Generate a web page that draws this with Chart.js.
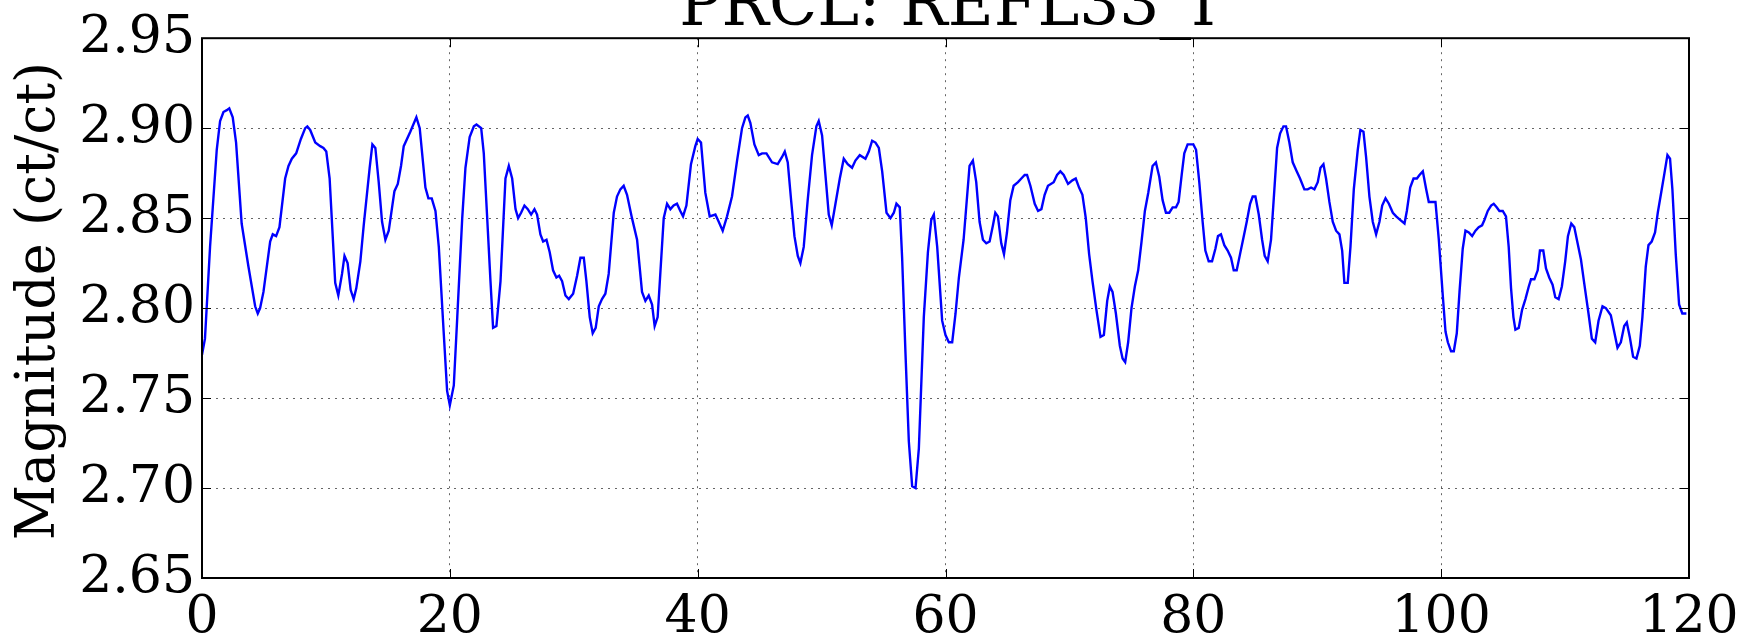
<!DOCTYPE html>
<html>
<head>
<meta charset="utf-8">
<title>PRCL: REFL33_I</title>
<script src="https://cdn.jsdelivr.net/npm/chart.js@4.4.1/dist/chart.umd.min.js"></script>
<style>
  html, body { margin: 0; padding: 0; background: #fff; }
  #wrap { width: 1752px; height: 633px; }
</style>
</head>
<body>
<div id="wrap"><canvas id="chart" width="1752" height="633"></canvas></div>
<script>
// PRCL: REFL33_I — magnitude trace.

const chartTitle = 'PRCL: REFL33_I';
const yAxisLabel = 'Magnitude (ct/ct)';
const xTicks = [0, 20, 40, 60, 80, 100, 120];
const yTicks = [2.65, 2.70, 2.75, 2.80, 2.85, 2.90, 2.95];

const sampleTimes = [
  0, 0.24, 0.65, 1.19, 1.46, 1.73, 2.0, 2.2, 2.48, 2.75, 3.2, 3.75, 4.29, 4.5, 4.69, 4.96, 5.5, 5.71, 5.98, 6.25,
  6.71, 6.98, 7.25, 7.6, 7.98, 8.33, 8.5, 8.73, 9.14, 9.54, 9.8, 10.03, 10.3, 10.75, 11.0, 11.3, 11.5, 11.75, 12.0, 12.24,
  12.45, 12.78, 13.05, 13.53, 13.75, 13.99, 14.26, 14.53, 14.8, 15.07, 15.34, 15.53, 15.8, 16.06, 16.28, 16.81, 17.3, 17.57, 18.03, 18.27,
  18.54, 18.84, 19.11, 19.5, 19.78,
  20.0, 20.32, 20.6, 21.0, 21.26, 21.6, 21.94, 22.15, 22.53, 22.74, 23.0, 23.28, 23.49, 23.76, 24.09, 24.49, 24.76, 25.03, 25.3, 25.51,
  25.75, 26.02, 26.29, 26.56, 26.83, 27.04, 27.31, 27.53, 27.8, 28.06, 28.33, 28.6, 28.82, 29.06, 29.33, 29.6, 29.95, 30.27, 30.54, 30.81,
  31.02, 31.29, 31.53, 31.77, 32.02, 32.28, 32.55, 32.82, 33.23, 33.49, 33.76, 34.03, 34.3, 34.7, 35.11, 35.51, 35.78, 36.05, 36.32, 36.53,
  36.77, 37.26, 37.53, 37.8, 38.06, 38.33, 38.6, 38.82, 39.09, 39.46, 39.81,
  40.0, 40.27, 40.62, 40.97, 41.43, 41.7, 42.02, 42.37, 42.77, 43.18, 43.58, 43.85, 44.04, 44.25, 44.58, 44.93, 45.2, 45.55, 46.0, 46.46,
  46.81, 47.03, 47.27, 47.54, 47.81, 48.08, 48.29, 48.56, 48.88, 49.23, 49.58, 49.77, 50.04, 50.31, 50.58, 50.82, 51.12, 51.47, 51.79, 52.11,
  52.46, 52.73, 53.08, 53.54, 53.81, 54.08, 54.35, 54.62, 54.89, 55.24, 55.56, 55.83, 56.04, 56.31, 56.5, 56.77, 57.04, 57.31, 57.58, 57.85,
  58.25, 58.58, 58.85, 59.06, 59.33, 59.73,
  60.0, 60.27, 60.54, 60.81, 61.08, 61.46, 61.94, 62.21, 62.48, 62.75, 63.02, 63.29, 63.56, 63.83, 64.02, 64.23, 64.5, 64.72, 64.96, 65.23,
  65.5, 65.85, 66.12, 66.39, 66.58, 66.85, 67.2, 67.47, 67.74, 68.0, 68.27, 68.73, 69.0, 69.27, 69.54, 69.89, 70.24, 70.51, 70.78, 71.05,
  71.32, 71.59, 71.86, 72.18, 72.51, 72.78, 73.05, 73.26, 73.48, 73.75, 74.07, 74.29, 74.5, 74.74, 75.01, 75.28, 75.55, 75.82, 76.09, 76.36,
  76.71, 76.98, 77.25, 77.52, 77.79, 78.06, 78.33, 78.6, 78.81, 79.06, 79.27, 79.54,
  80.0, 80.22, 80.48, 80.75, 80.97, 81.24, 81.51, 81.78, 81.99, 82.23, 82.5, 82.77, 83.04, 83.26, 83.5, 83.77, 84.04, 84.31, 84.58, 84.79,
  85.01, 85.28, 85.55, 85.76, 86.0, 86.27, 86.54, 86.76, 87.0, 87.27, 87.48, 87.75, 88.02, 88.34, 88.61, 88.96, 89.23, 89.5, 89.77, 90.04,
  90.26, 90.5, 90.71, 90.98, 91.25, 91.52, 91.79, 92.01, 92.19, 92.46, 92.68, 92.95, 93.27, 93.48, 93.73, 93.94, 94.21, 94.48, 94.75, 95.02,
  95.24, 95.51, 95.78, 96.1, 96.37, 96.69, 97.04, 97.23, 97.5, 97.77, 98.04, 98.25, 98.52, 98.79, 99.0, 99.27, 99.54, 99.81,
  100.13, 100.35, 100.54, 100.8, 101.02, 101.26, 101.48, 101.74, 101.96, 102.23, 102.5, 102.77, 103.03, 103.3, 103.49, 103.76, 104.03, 104.24, 104.48, 104.7,
  104.97, 105.23, 105.45, 105.64, 105.83, 105.99, 106.26, 106.53, 106.8, 107.07, 107.25, 107.52, 107.79, 107.97, 108.24, 108.46, 108.72, 108.99, 109.21, 109.48,
  109.74, 110.01, 110.23, 110.5, 110.74, 111.01, 111.28, 111.54, 111.89, 112.16, 112.43, 112.7, 113.02, 113.29, 113.69, 113.96, 114.23, 114.5, 114.77, 114.98,
  115.22, 115.49, 115.76, 116.03, 116.24, 116.51, 116.73, 116.99, 117.26, 117.48, 117.75, 118.02, 118.26, 118.47, 118.66, 118.93, 119.2, 119.46, 119.79,
];

const magnitudes = [
  2.774, 2.783, 2.834, 2.888, 2.904, 2.909, 2.910, 2.911, 2.906, 2.892, 2.847, 2.823, 2.801, 2.797, 2.800, 2.809, 2.837, 2.841, 2.840, 2.845,
  2.872, 2.879, 2.883, 2.886, 2.894, 2.900, 2.901, 2.899, 2.892, 2.890, 2.889, 2.887, 2.872, 2.814, 2.807, 2.819, 2.829, 2.825, 2.810, 2.805,
  2.811, 2.826, 2.846, 2.878, 2.891, 2.889, 2.870, 2.848, 2.838, 2.843, 2.856, 2.865, 2.869, 2.879, 2.890, 2.898, 2.906, 2.900, 2.867, 2.861,
  2.861, 2.854, 2.834, 2.787, 2.754,
  2.746, 2.757, 2.795, 2.850, 2.878, 2.895, 2.901, 2.902, 2.900, 2.886, 2.852, 2.815, 2.789, 2.790, 2.815, 2.872, 2.879, 2.872, 2.855, 2.850,
  2.853, 2.857, 2.855, 2.852, 2.855, 2.852, 2.841, 2.837, 2.838, 2.831, 2.821, 2.817, 2.818, 2.815, 2.807, 2.805, 2.808, 2.818, 2.828, 2.828,
  2.815, 2.795, 2.786, 2.789, 2.801, 2.805, 2.808, 2.819, 2.853, 2.862, 2.866, 2.868, 2.863, 2.850, 2.838, 2.809, 2.804, 2.807, 2.802, 2.790,
  2.795, 2.850, 2.858, 2.855, 2.857, 2.858, 2.854, 2.851, 2.857, 2.880, 2.890,
  2.894, 2.892, 2.864, 2.851, 2.852, 2.848, 2.843, 2.851, 2.862, 2.882, 2.900, 2.906, 2.907, 2.903, 2.891, 2.885, 2.886, 2.886, 2.881, 2.880,
  2.884, 2.887, 2.881, 2.860, 2.840, 2.829, 2.825, 2.834, 2.860, 2.885, 2.901, 2.904, 2.896, 2.874, 2.852, 2.846, 2.858, 2.872, 2.883, 2.880,
  2.878, 2.882, 2.885, 2.883, 2.887, 2.893, 2.892, 2.889, 2.876, 2.853, 2.850, 2.853, 2.858, 2.856, 2.828, 2.775, 2.726, 2.701, 2.700, 2.722,
  2.795, 2.831, 2.849, 2.852, 2.834, 2.793,
  2.785, 2.781, 2.781, 2.797, 2.817, 2.838, 2.879, 2.882, 2.870, 2.848, 2.838, 2.836, 2.837, 2.846, 2.853, 2.851, 2.836, 2.830, 2.842, 2.860,
  2.868, 2.870, 2.872, 2.874, 2.874, 2.868, 2.858, 2.854, 2.855, 2.863, 2.868, 2.870, 2.874, 2.876, 2.874, 2.869, 2.871, 2.872, 2.867, 2.863,
  2.850, 2.830, 2.815, 2.799, 2.784, 2.785, 2.804, 2.812, 2.809, 2.797, 2.779, 2.772, 2.770, 2.781, 2.800, 2.812, 2.821, 2.837, 2.854, 2.864,
  2.879, 2.881, 2.873, 2.860, 2.853, 2.853, 2.856, 2.856, 2.859, 2.874, 2.886, 2.891,
  2.891, 2.888, 2.870, 2.848, 2.832, 2.826, 2.826, 2.833, 2.840, 2.841, 2.835, 2.832, 2.828, 2.821, 2.821, 2.830, 2.839, 2.848, 2.858, 2.862,
  2.862, 2.852, 2.838, 2.829, 2.826, 2.838, 2.866, 2.889, 2.897, 2.901, 2.901, 2.892, 2.881, 2.876, 2.872, 2.866, 2.866, 2.867, 2.866, 2.870,
  2.878, 2.880, 2.872, 2.859, 2.848, 2.843, 2.841, 2.832, 2.814, 2.814, 2.834, 2.866, 2.888, 2.899, 2.898, 2.884, 2.862, 2.848, 2.841, 2.848,
  2.857, 2.861, 2.858, 2.853, 2.851, 2.849, 2.847, 2.854, 2.867, 2.872, 2.872, 2.874, 2.876, 2.866, 2.859, 2.859, 2.859, 2.838,
  2.807, 2.787, 2.781, 2.776, 2.776, 2.786, 2.809, 2.833, 2.843, 2.842, 2.840, 2.843, 2.845, 2.846, 2.849, 2.854, 2.857, 2.858, 2.856, 2.854,
  2.854, 2.851, 2.834, 2.811, 2.795, 2.788, 2.789, 2.799, 2.805, 2.812, 2.816, 2.816, 2.821, 2.832, 2.832, 2.822, 2.817, 2.813, 2.806, 2.805,
  2.812, 2.826, 2.840, 2.847, 2.845, 2.836, 2.827, 2.814, 2.797, 2.783, 2.781, 2.793, 2.801, 2.800, 2.796, 2.787, 2.778, 2.781, 2.790, 2.792,
  2.784, 2.773, 2.772, 2.779, 2.795, 2.823, 2.835, 2.837, 2.842, 2.853, 2.864, 2.875, 2.885, 2.883, 2.866, 2.830, 2.802, 2.797, 2.797,
];

const FONT = '"DejaVu Serif", "Liberation Serif", serif';

// matplotlib-style box: frame, inward tick marks, y label, title that runs off the top
const frame = {
  id: 'frame',
  afterDraw(chart) {
    const { ctx, chartArea: a, scales } = chart;
    ctx.save();
    ctx.strokeStyle = '#000';
    ctx.lineWidth = 1;
    ctx.beginPath();
    yTicks.forEach(v => {
      const py = Math.round(scales.y.getPixelForValue(v)) + 0.5;
      ctx.moveTo(a.left, py); ctx.lineTo(a.left + 9, py);
      ctx.moveTo(a.right, py); ctx.lineTo(a.right - 9, py);
    });
    xTicks.forEach(v => {
      const px = Math.round(scales.x.getPixelForValue(v)) + 0.5;
      ctx.moveTo(px, a.bottom); ctx.lineTo(px, a.bottom - 9);
      ctx.moveTo(px, a.top); ctx.lineTo(px, a.top + 9);
    });
    ctx.stroke();
    ctx.lineWidth = 2;
    ctx.strokeRect(a.left, a.top, a.right - a.left, a.bottom - a.top);

    ctx.fillStyle = '#000';
    ctx.font = '63px ' + FONT;
    ctx.textAlign = 'center';
    ctx.textBaseline = 'alphabetic';
    ctx.fillText(chartTitle, (a.left + a.right) / 2 + 2, 25);

    ctx.font = '54px ' + FONT;
    ctx.textBaseline = 'middle';
    ctx.translate(39.5, (a.top + a.bottom) / 2 - 7);
    ctx.rotate(-Math.PI / 2);
    ctx.fillText(yAxisLabel, 0, 0);
    ctx.restore();
  },
};

new Chart(document.getElementById('chart'), {
  type: 'line',
  data: {
    datasets: [{
      data: sampleTimes.map((t, i) => ({ x: t, y: magnitudes[i] })),
      borderColor: '#0000ff',
      borderWidth: 2.4,
      pointRadius: 0,
      tension: 0,
      fill: false,
    }],
  },
  options: {
    responsive: false,
    animation: false,
    layout: { padding: { left: 0, right: 63, top: 35, bottom: 0 } },
    plugins: { legend: { display: false }, tooltip: { enabled: false } },
    scales: {
      x: {
        type: 'linear',
        min: 0,
        max: 120,
        afterFit: s => { s.height = 55; },
        afterBuildTicks: s => { s.ticks = xTicks.map(v => ({ value: v })); },
        ticks: { color: '#000', font: { family: FONT, size: 52 }, padding: 9, maxRotation: 0 },
        grid: { color: 'rgba(0,0,0,0.6)', lineWidth: 1, drawTicks: false },
        border: { display: false, dash: [2, 5] },
      },
      y: {
        min: 2.65,
        max: 2.95,
        afterFit: s => { s.width = 202; },
        afterBuildTicks: s => { s.ticks = yTicks.map(v => ({ value: v })); },
        ticks: { color: '#000', font: { family: FONT, size: 52 }, padding: 7, callback: v => v.toFixed(2) },
        grid: { color: 'rgba(0,0,0,0.6)', lineWidth: 1, drawTicks: false },
        border: { display: false, dash: [2, 5] },
      },
    },
  },
  plugins: [frame],
});
</script>
</body>
</html>
